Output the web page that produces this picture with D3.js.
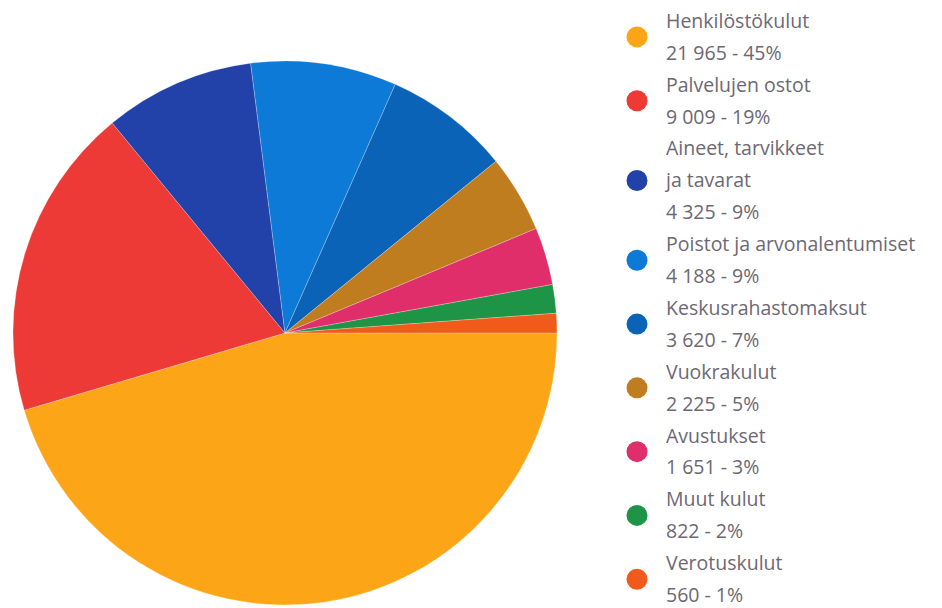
<!DOCTYPE html>
<html>
<head>
<meta charset="utf-8">
<script src="https://cdn.jsdelivr.net/npm/d3@7"></script>
<style>
  body { margin: 0; background: #fff; }
  text { font-family: "Open Sans", "Noto Sans", sans-serif; }
</style>
</head>
<body>
<div id="chart"></div>
<script>
const width = 942, height = 608;

// data
const categories = ["Henkilöstökulut", "Palvelujen ostot", "Aineet, tarvikkeet\nja tavarat",
  "Poistot ja arvonalentumiset", "Keskusrahastomaksut", "Vuokrakulut", "Avustukset",
  "Muut kulut", "Verotuskulut"];
const values = [21965, 9009, 4325, 4188, 3620, 2225, 1651, 822, 560];
const valueLabels = ["21 965 - 45%", "9 009 - 19%", "4 325 - 9%", "4 188 - 9%", "3 620 - 7%",
  "2 225 - 5%", "1 651 - 3%", "822 - 2%", "560 - 1%"];
const colors = ["#fca516", "#ee3a36", "#2241a9", "#0c7ad6", "#0b63b8", "#c07d20",
  "#e02e6b", "#1e9446", "#f05b1c"];

const cx = 285, cy = 333, radius = 272;

const svg = d3.select("#chart").append("svg")
    .attr("width", width)
    .attr("height", height);

const color = d3.scaleOrdinal().domain(categories).range(colors);

const pie = d3.pie()
    .sort(null)
    .startAngle(Math.PI / 2)
    .endAngle(Math.PI / 2 + 2 * Math.PI)
    .value(d => d.value);

const arc = d3.arc().innerRadius(0).outerRadius(radius);

const data = categories.map((c, i) => ({name: c, value: values[i], label: valueLabels[i]}));

svg.append("g")
    .attr("transform", "translate(" + cx + "," + cy + ")")
  .selectAll("path")
  .data(pie(data))
  .join("path")
    .attr("d", arc)
    .attr("fill", d => color(d.data.name))
    .attr("stroke", "#fff")
    .attr("stroke-opacity", 0.35)
    .attr("stroke-width", 0.7);

// legend: every text line sits on a fixed grid
const lineY0 = 21, lineStep = 31.9;
const legend = svg.append("g");
let line = 0;
data.forEach(d => {
  const lines = d.name.split("\n").concat([d.label]);
  const first = line;
  lines.forEach(t => {
    legend.append("text")
      .attr("x", 666)
      .attr("y", lineY0 + lineStep * line)
      .attr("dy", "0.35em")
      .attr("fill", "#6d6873")
      .attr("font-size", 19.5)
      .text(t);
    line++;
  });
  const mid = (first + line - 1) / 2;
  legend.append("circle")
    .attr("cx", 637)
    .attr("cy", lineY0 + lineStep * mid)
    .attr("r", 10.5)
    .attr("fill", color(d.name));
});
</script>
</body>
</html>
